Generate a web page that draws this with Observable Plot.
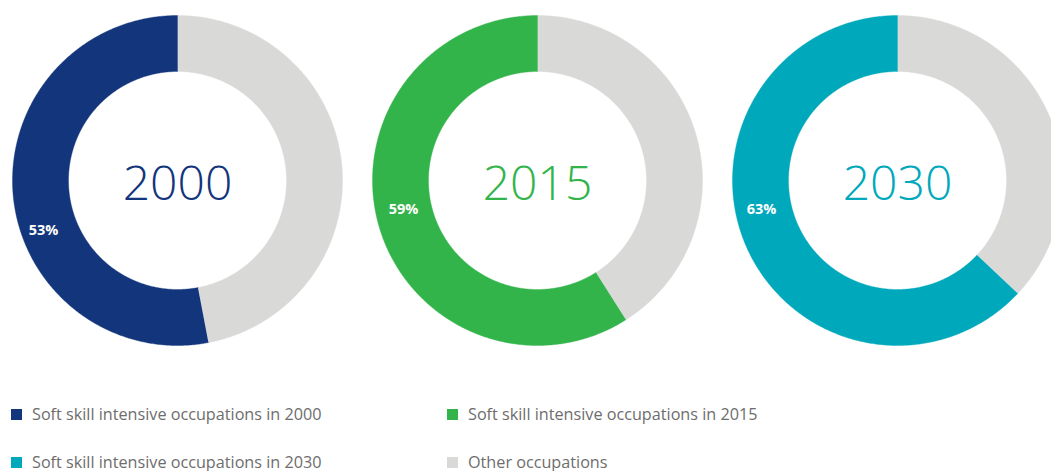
<!DOCTYPE html>
<html>
<head>
<meta charset="utf-8">
<script src="https://cdn.jsdelivr.net/npm/d3@7"></script>
<script src="https://cdn.jsdelivr.net/npm/@observablehq/plot@0.6"></script>
<style>
  html, body { margin: 0; padding: 0; background: #fff; }
  body { width: 1051px; height: 471px; overflow: hidden; font-family: "Open Sans", sans-serif; }
  #legend { position: relative; height: 81px; }
  .item { position: absolute; display: flex; align-items: center; font-size: 16.2px; color: #6d6d6d; white-space: nowrap; }
  .sw { width: 11px; height: 11px; margin-right: 10px; }
</style>
</head>
<body>
<div id="chart"></div>
<div id="legend"></div>
<script>
// ---- data ----
const years = ["2000", "2015", "2030"];
const softShare = [53, 59, 63];              // % soft skill intensive occupations
const otherShare = softShare.map(v => 100 - v);
const categories = [
  "Soft skill intensive occupations in 2000",
  "Soft skill intensive occupations in 2015",
  "Soft skill intensive occupations in 2030",
  "Other occupations"
];
const categoryColors = ["#12357c", "#33b44b", "#00a8bb", "#d9d9d8"];

// ---- layout ----
const W = 1051, H = 390;
const cx0 = 177, dx = 360, cy = 180;
const rOuter = 165, rInner = 109;
const labelPos = [ {r: 143, drop: 50}, {r: 137, drop: 29}, {r: 139, drop: 29} ];

// build donut slice polygons
const pts = [];
function slice(key, cat, cx, a0, a1) {
  const n = Math.max(2, Math.ceil((a1 - a0) / 0.5));
  for (let k = 0; k <= n; k++) {
    const a = (a0 + (a1 - a0) * k / n) * Math.PI / 180;
    pts.push({key, cat, x: cx + rOuter * Math.sin(a), y: cy - rOuter * Math.cos(a)});
  }
  for (let k = n; k >= 0; k--) {
    const a = (a0 + (a1 - a0) * k / n) * Math.PI / 180;
    pts.push({key, cat, x: cx + rInner * Math.sin(a), y: cy - rInner * Math.cos(a)});
  }
}
const centers = [];
const pctLabels = [];
years.forEach((yr, i) => {
  const cx = cx0 + i * dx;
  const split = 360 * otherShare[i] / 100;   // clockwise from top: other first, soft after
  slice("o" + i, categories[3], cx, 0, split);
  slice("s" + i, categories[i], cx, split, 360);
  centers.push({x: cx, y: cy + 4, text: yr, cat: categories[i]});
  const lp = labelPos[i];
  pctLabels.push({x: cx - Math.sqrt(lp.r * lp.r - lp.drop * lp.drop), y: cy + lp.drop, text: softShare[i] + "%"});
});

const chart = Plot.plot({
  width: W, height: H,
  margin: 0,
  x: {domain: [0, W], range: [0, W], axis: null},
  y: {domain: [0, H], range: [0, H], axis: null},
  color: {domain: categories, range: categoryColors},
  style: {background: "#fff", fontFamily: "Open Sans, sans-serif"},
  marks: [
    Plot.line(pts, {x: "x", y: "y", z: "key", fill: "cat", stroke: "cat", strokeWidth: 0.4, curve: "linear"}),
    Plot.text(centers, {x: "x", y: "y", text: "text", fill: "cat", fontSize: 48, fontWeight: 300, fontFamily: "Open Sans"}),
    Plot.text(pctLabels, {x: "x", y: "y", text: "text", fill: "white", fontSize: 14.5, fontWeight: "bold", fontFamily: "Open Sans"})
  ]
});
document.getElementById("chart").appendChild(chart);

// legend
const legend = document.getElementById("legend");
const legendPos = [ [11, 24], [447, 24], [11, 72], [447, 72] ];
categories.forEach((c, i) => {
  const d = document.createElement("div");
  d.className = "item";
  d.style.left = legendPos[i][0] + "px";
  d.style.top = (legendPos[i][1] - 10) + "px";
  d.style.height = "20px";
  const sw = document.createElement("span");
  sw.className = "sw";
  sw.style.background = categoryColors[i];
  d.appendChild(sw);
  d.appendChild(document.createTextNode(c));
  legend.appendChild(d);
});
</script>
</body>
</html>
